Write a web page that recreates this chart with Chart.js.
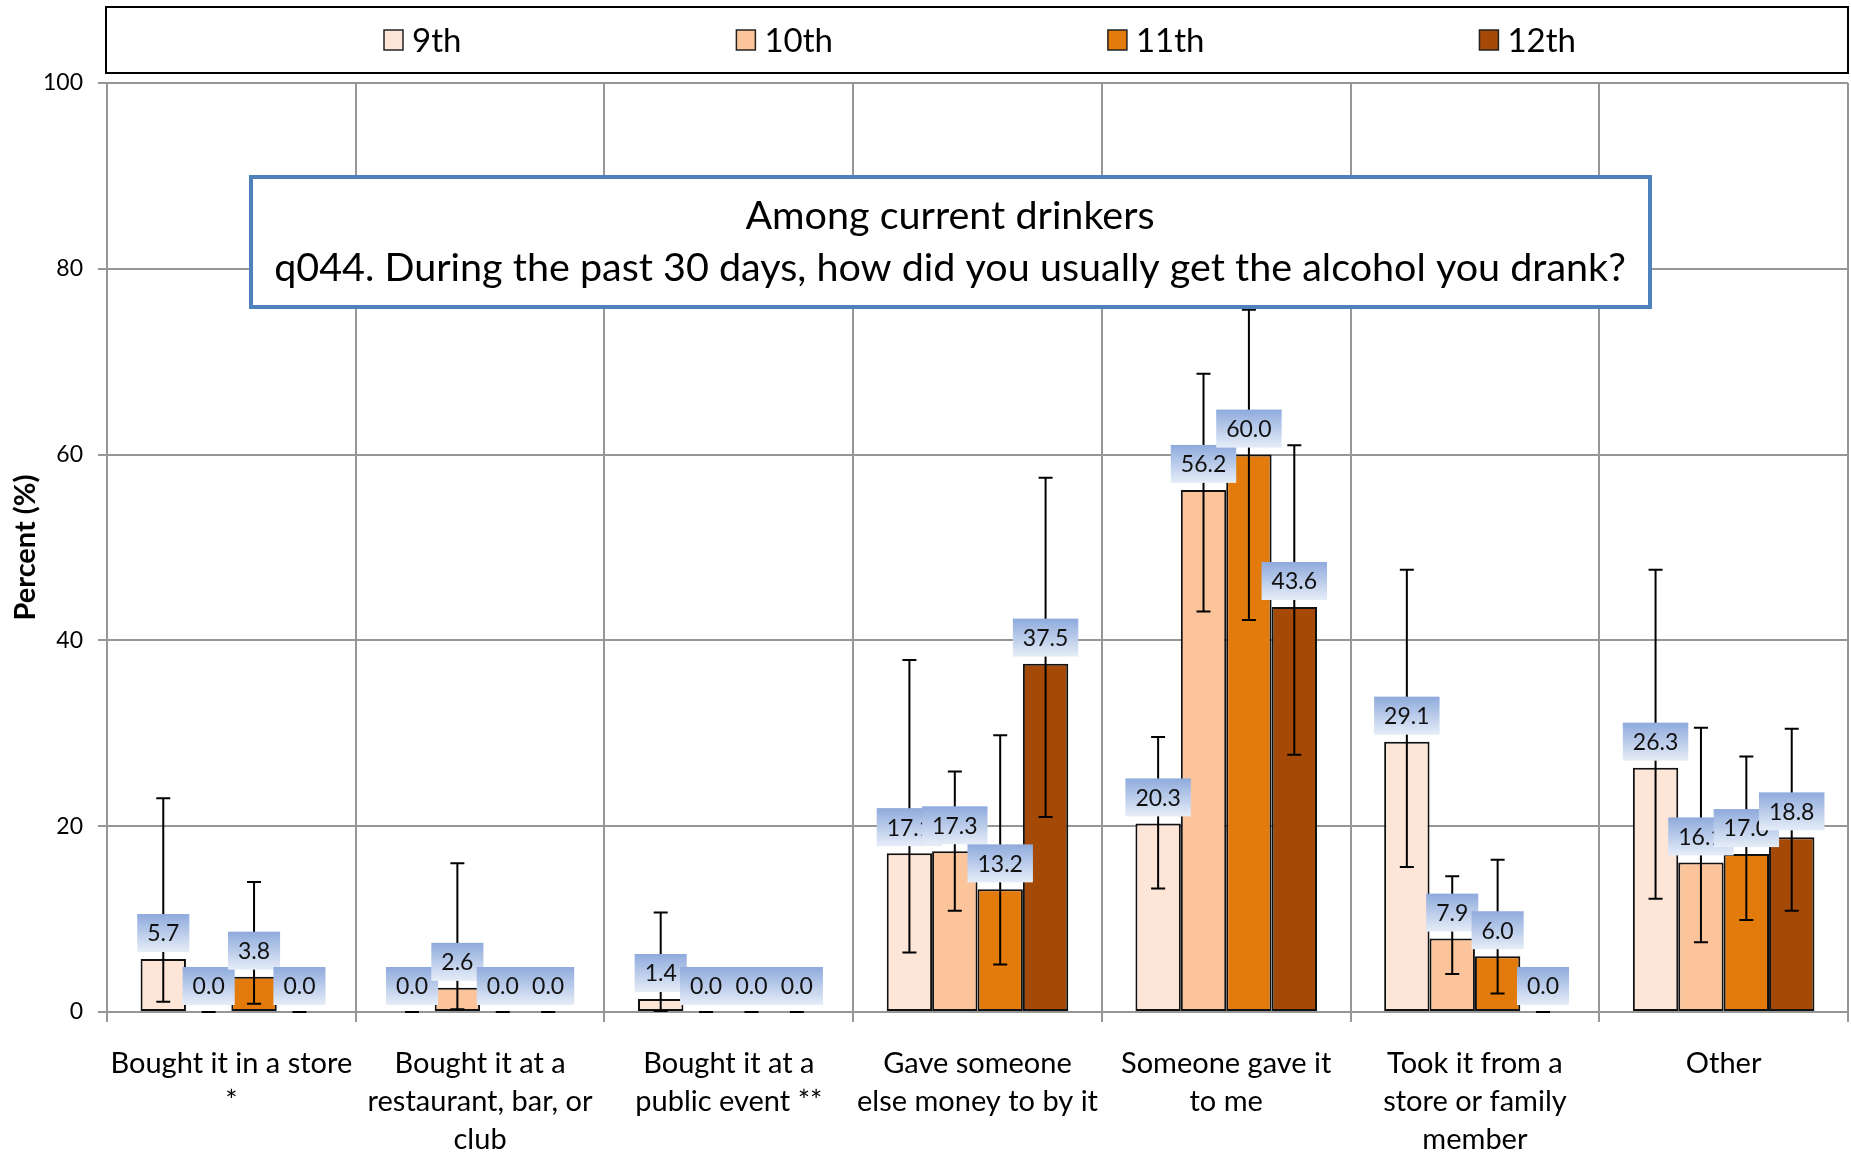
<!DOCTYPE html>
<html>
<head>
<meta charset="utf-8">
<script src="https://cdn.jsdelivr.net/npm/chart.js@4.4.1/dist/chart.umd.min.js"></script>
<style>
  html, body { margin: 0; padding: 0; background: #fff; }
  #wrap { width: 1851px; height: 1157px; }
</style>
</head>
<body>
<div id="wrap"><canvas id="myChart"></canvas></div>
<script>
var categories = [
  ["Bought it in a store", "*"],
  ["Bought it at a", "restaurant, bar, or", "club"],
  ["Bought it at a", "public event **"],
  ["Gave someone", "else money to by it"],
  ["Someone gave it", "to me"],
  ["Took it from a", "store or family", "member"],
  ["Other"]
];
var grades = ["9th", "10th", "11th", "12th"];
var colors = ["#fde5d8", "#fcc49b", "#e27b0b", "#a44a06"];

var values9 = [5.7, 0.0, 1.4, 17.1, 20.3, 29.1, 26.3];
var values10 = [0.0, 2.6, 0.0, 17.3, 56.2, 7.9, 16.1];
var values11 = [3.8, 0.0, 0.0, 13.2, 60.0, 6.0, 17.0];
var values12 = [0.0, 0.0, 0.0, 37.5, 43.6, 0.0, 18.8];

// 95% confidence interval ends
var low9 = [1.1, 0, 0.1, 6.4, 13.3, 15.6, 12.2];
var high9 = [23.0, 0, 10.7, 37.9, 29.6, 47.6, 47.6];
var low10 = [0, 0.3, 0, 10.9, 43.1, 4.1, 7.5];
var high10 = [0, 16.0, 0, 25.9, 68.7, 14.6, 30.6];
var low11 = [0.9, 0, 0, 5.1, 42.2, 2.0, 9.9];
var high11 = [14.0, 0, 0, 29.8, 75.6, 16.4, 27.5];
var low12 = [0, 0, 0, 21.0, 27.7, 0, 10.9];
var high12 = [0, 0, 0, 57.5, 61.0, 0, 30.5];

var yTicks = [0, 20, 40, 60, 80, 100];
var titleLines = [
  "Among current drinkers",
  "q044. During the past 30 days, how did you usually get the alcohol you drank?"
];

var FONT = "Lato, 'Open Sans', sans-serif";
var allValues = [values9, values10, values11, values12];
var allLow = [low9, low10, low11, low12];
var allHigh = [high9, high10, high11, high12];

var datasets = grades.map(function (g, i) {
  return {
    label: g,
    data: allValues[i],
    backgroundColor: colors[i],
    borderColor: "#111",
    borderWidth: function (c) { return c.raw === 0 ? 0 : 2; },
    borderSkipped: false,
    categoryPercentage: 0.73,
    barPercentage: 1.0
  };
});

var extras = {
  id: "extras",
  afterDatasetsDraw: function (chart) {
    var ctx = chart.ctx;
    var y = chart.scales.y;
    ctx.save();
    // error bars
    ctx.strokeStyle = "#000";
    ctx.lineWidth = 2;
    chart.data.datasets.forEach(function (ds, i) {
      chart.getDatasetMeta(i).data.forEach(function (bar, j) {
        var yl = y.getPixelForValue(allLow[i][j]);
        var yh = y.getPixelForValue(allHigh[i][j]);
        ctx.beginPath();
        ctx.moveTo(bar.x, yl); ctx.lineTo(bar.x, yh);
        ctx.moveTo(bar.x - 7, yl); ctx.lineTo(bar.x + 7, yl);
        ctx.moveTo(bar.x - 7, yh); ctx.lineTo(bar.x + 7, yh);
        ctx.stroke();
      });
    });
    // value labels
    ctx.font = "23px " + FONT;
    ctx.textAlign = "center";
    ctx.textBaseline = "middle";
    chart.data.datasets.forEach(function (ds, i) {
      chart.getDatasetMeta(i).data.forEach(function (bar, j) {
        var txt = ds.data[j].toFixed(1);
        var w = ctx.measureText(txt).width + 20;
        var h = 38;
        var bottom = bar.y - 7;
        var top = bottom - h;
        var g = ctx.createLinearGradient(0, top, 0, bottom);
        g.addColorStop(0, "#8eaadc");
        g.addColorStop(1, "#e6edf8");
        ctx.fillStyle = g;
        ctx.fillRect(bar.x - w / 2, top, w, h);
        ctx.fillStyle = "#111";
        ctx.fillText(txt, bar.x, top + h / 2 + 1);
      });
    });
    ctx.restore();
  },
  afterDraw: function (chart) {
    var ctx = chart.ctx;
    ctx.save();
    // legend
    ctx.strokeStyle = "#000";
    ctx.lineWidth = 2;
    ctx.strokeRect(106, 7, 1742, 66);
    ctx.font = "33px " + FONT;
    ctx.textBaseline = "middle";
    ctx.textAlign = "left";
    var x = 384;
    chart.data.datasets.forEach(function (ds) {
      ctx.fillStyle = ds.backgroundColor;
      ctx.fillRect(x, 30, 19, 20);
      ctx.lineWidth = 1.5;
      ctx.strokeStyle = "#222";
      ctx.strokeRect(x, 30, 19, 20);
      ctx.fillStyle = "#000";
      ctx.fillText(ds.label, x + 28, 41);
      x += 28 + ctx.measureText(ds.label).width + 275;
    });
    // question box
    ctx.fillStyle = "#fff";
    ctx.fillRect(251, 177, 1399, 130);
    ctx.strokeStyle = "#4f81bd";
    ctx.lineWidth = 4;
    ctx.strokeRect(251, 177, 1399, 130);
    ctx.fillStyle = "#000";
    ctx.font = "39.5px " + FONT;
    ctx.textAlign = "center";
    ctx.fillText(titleLines[0], 950, 216);
    ctx.fillText(titleLines[1], 950, 268);
    ctx.restore();
  }
};

var myChart = new Chart(document.getElementById("myChart"), {
  type: "bar",
  data: { labels: categories, datasets: datasets },
  plugins: [extras],
  options: {
    responsive: true,
    maintainAspectRatio: false,
    animation: false,
    layout: { padding: { top: 83, right: 3, left: 0, bottom: 0 } },
    plugins: {
      legend: { display: false },
      tooltip: { enabled: false }
    },
    scales: {
      x: {
        grid: { offset: true, color: "#969696", lineWidth: 2, tickLength: 10 },
        border: { color: "#969696", width: 2 },
        ticks: {
          color: "#000",
          padding: 23,
          maxRotation: 0,
          autoSkip: false,
          font: { family: FONT, size: 29, lineHeight: 1.31 }
        },
        afterFit: function (s) { s.height = 145; }
      },
      y: {
        min: 0,
        max: 100,
        afterBuildTicks: function (s) { s.ticks = yTicks.map(function (v) { return { value: v }; }); },
        grid: { color: "#969696", lineWidth: 2, tickLength: 9 },
        border: { color: "#969696", width: 2 },
        ticks: { color: "#000", padding: 15, font: { family: FONT, size: 23 } },
        title: {
          display: true,
          text: "Percent (%)",
          color: "#000",
          padding: { top: 8, bottom: 0 },
          font: { family: FONT, size: 29, weight: "bold" }
        },
        afterFit: function (s) { s.width = 107; }
      }
    }
  }
});
</script>
</body>
</html>
